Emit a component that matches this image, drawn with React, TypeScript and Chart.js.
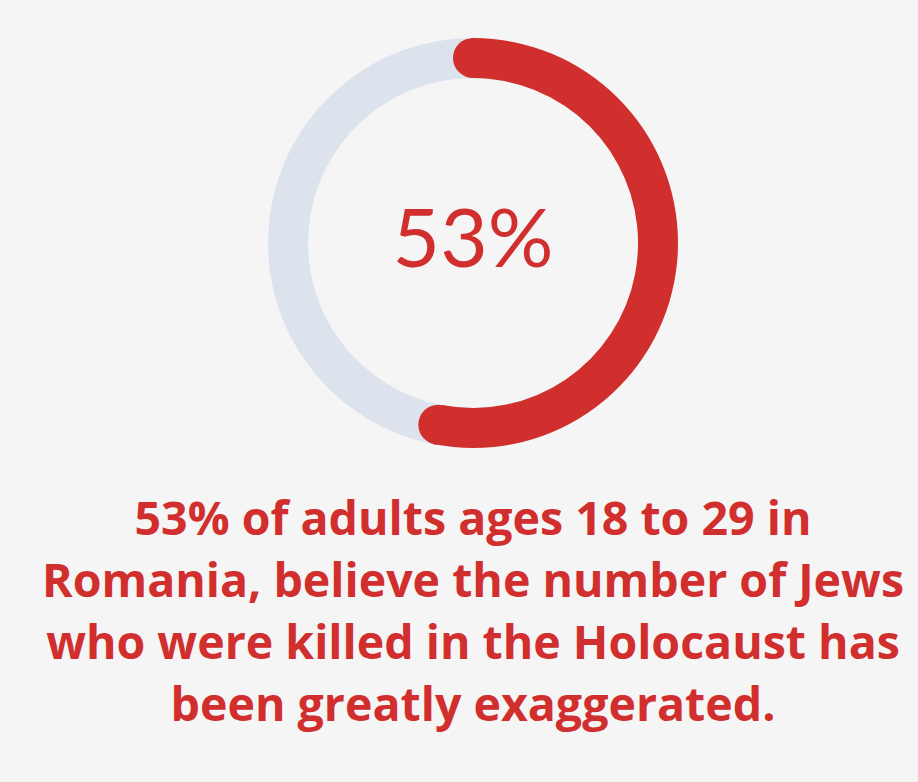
import React, { useEffect, useRef } from "react";
import { Chart, registerables } from "chart.js";

Chart.register(...registerables);

const labels = ["Believe greatly exaggerated", "Other"];
const values = [53, 47];
const centerLabel = "53%";
const captionLines = [
  "53% of adults ages 18 to 29 in",
  "Romania, believe the number of Jews",
  "who were killed in the Holocaust has",
  "been greatly exaggerated.",
];

const RED = "#d12e2e";
const GREY = "#dde3ed";
const BG = "#f5f5f5";

const roundCaps = {
  id: "roundCaps",
  afterDatasetsDraw(chart: any) {
    const meta = chart.getDatasetMeta(0);
    const arc = meta.data[0];
    if (!arc) return;
    const { x, y, startAngle, endAngle, innerRadius, outerRadius } = arc.getProps(
      ["x", "y", "startAngle", "endAngle", "innerRadius", "outerRadius"],
      true
    );
    const mid = (innerRadius + outerRadius) / 2;
    const r = (outerRadius - innerRadius) / 2;
    const ctx = chart.ctx;
    ctx.save();
    ctx.fillStyle = RED;
    for (const a of [startAngle, endAngle]) {
      ctx.beginPath();
      ctx.arc(x + mid * Math.cos(a), y + mid * Math.sin(a), r, 0, Math.PI * 2);
      ctx.fill();
    }
    ctx.restore();
  },
};

const centerText = {
  id: "centerText",
  afterDraw(chart: any) {
    const arc = chart.getDatasetMeta(0).data[0];
    if (!arc) return;
    const ctx = chart.ctx;
    ctx.save();
    ctx.fillStyle = RED;
    ctx.font = "400 82px 'Lato', sans-serif";
    ctx.textAlign = "center";
    ctx.textBaseline = "alphabetic";
    ctx.fillText(centerLabel, arc.x, arc.y + 24);
    ctx.restore();
  },
};

export default function App() {
  const ref = useRef<HTMLCanvasElement | null>(null);

  useEffect(() => {
    document.body.style.margin = "0";
    document.body.style.background = BG;
    const chart = new Chart(ref.current as HTMLCanvasElement, {
      type: "doughnut",
      data: {
        labels,
        datasets: [
          {
            data: values,
            backgroundColor: [RED, GREY],
            borderWidth: 0,
          },
        ],
      },
      options: {
        animation: false,
        responsive: false,
        maintainAspectRatio: false,
        cutout: "80.5%",
        layout: { padding: { left: 268, right: 240, top: 38, bottom: 10 } },
        plugins: {
          legend: { display: false },
          tooltip: { enabled: false },
        },
      },
      plugins: [roundCaps, centerText],
    });
    return () => chart.destroy();
  }, []);

  return (
    <div style={{ position: "relative", width: 918, height: 782, background: BG }}>
      <canvas ref={ref} width={918} height={458} style={{ display: "block" }} />
      <div
        style={{
          position: "absolute",
          left: -20,
          top: 486,
          width: 986,
          textAlign: "center",
          color: RED,
          fontFamily: "'Open Sans', sans-serif",
          fontWeight: 700,
          fontSize: 46.5,
          lineHeight: "62px",
          whiteSpace: "nowrap",
        }}
      >
        {captionLines.map((l, i) => (
          <div key={i}>{l}</div>
        ))}
      </div>
    </div>
  );
}
